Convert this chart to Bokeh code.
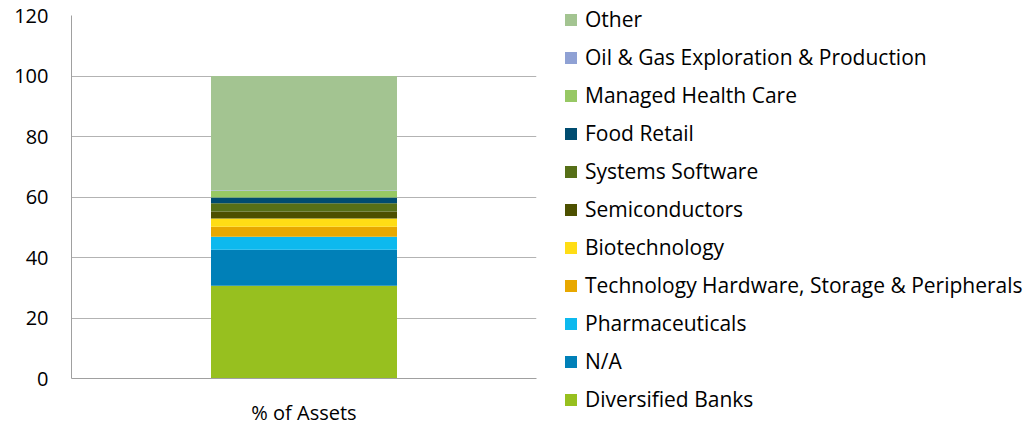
from bokeh.plotting import figure
from bokeh.models import FixedTicker, Legend, LegendItem, ColumnDataSource, FactorRange, Range1d
from bokeh.embed import file_html
from bokeh.resources import INLINE

category = ["% of Assets"]
series = ["Diversified Banks", "N/A", "Pharmaceuticals",
          "Technology Hardware, Storage & Peripherals", "Biotechnology",
          "Semiconductors", "Systems Software", "Food Retail",
          "Managed Health Care", "Oil & Gas Exploration & Production", "Other"]
values = [30.7, 11.9, 4.3, 3.3, 2.7, 2.3, 2.7, 1.9, 2.3, 0.1, 37.8]
colors = ["#97C01F", "#0080B8", "#0DB9EE", "#E8A800", "#FFDD15",
          "#4D5000", "#566F17", "#004C70", "#97C864", "#8FA1D4", "#A3C491"]
y_ticks = [0, 20, 40, 60, 80, 100, 120]

FONT = "Open Sans"

data = {"cat": category}
keys = []
for i, v in enumerate(values):
    k = f"s{i}"
    keys.append(k)
    data[k] = [v]
source = ColumnDataSource(data)

p = figure(frame_width=465, frame_height=363, x_range=FactorRange(*category),
           y_range=Range1d(0, 120), output_backend="svg", toolbar_location=None,
           min_border_left=71, min_border_right=0, min_border_top=15,
           min_border_bottom=47)
p.outline_line_color = None
p.background_fill_color = "white"
p.border_fill_color = "white"

renderers = p.vbar_stack(keys, x="cat", width=0.4, color=colors, source=source,
                         line_color=None)

p.yaxis.ticker = FixedTicker(ticks=y_ticks)
p.yaxis.major_tick_line_color = None
p.yaxis.major_tick_out = 0
p.yaxis.minor_tick_line_color = None
p.yaxis.axis_line_color = "#A0A0A0"
p.yaxis.major_label_text_font = FONT
p.yaxis.major_label_text_font_size = "20px"
p.yaxis.major_label_text_color = "#000000"
p.yaxis.major_label_standoff = 23

p.xaxis.major_tick_line_color = None
p.xaxis.major_tick_out = 0
p.xaxis.axis_line_color = "#A0A0A0"
p.xaxis.major_label_text_font = FONT
p.xaxis.major_label_text_font_size = "20px"
p.xaxis.major_label_text_color = "#000000"
p.xaxis.major_label_standoff = 20

p.xgrid.grid_line_color = None
p.ygrid.grid_line_color = "#B3B3B3"
p.ygrid.ticker = FixedTicker(ticks=y_ticks)

items = [LegendItem(label=series[i], renderers=[renderers[i]]) for i in range(len(series) - 1, -1, -1)]
legend = Legend(items=items, location=(27, -35), orientation="vertical",
                glyph_width=15, glyph_height=15, label_height=20, spacing=10,
                label_standoff=7, padding=0, margin=0,
                border_line_color=None, background_fill_alpha=0,
                label_text_font=FONT, label_text_font_size="21px",
                label_text_color="#000000", label_text_baseline="middle")
p.add_layout(legend, "right")

open("out.html", "w").write(file_html(p, INLINE))
